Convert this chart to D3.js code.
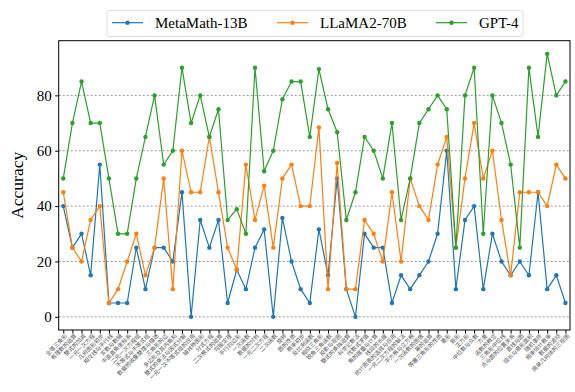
<!DOCTYPE html>
<html lang="zh">
<head>
<meta charset="UTF-8">
<script src="https://d3js.org/d3.v7.min.js"></script>
<title>accuracy</title>
<style>
  body { margin: 0; background: #fff; }
</style>
</head>
<body>
<script>
// 知识点（x 轴）
const topics = [
  "全等三角形", "有理数的运算", "整式的加减", "一元一次方程", "几何图形初步", "相交线与平行线",
  "实数与数轴", "平面直角坐标系", "二元一次方程组", "不等式与不等式组", "数据的收集整理与描述", "三角形的边",
  "多边形及其内角和", "整式的乘法与因式分解", "一元一次不等式组的应用", "轴对称图形", "分式方程", "二次根式的运算",
  "勾股定理", "平行四边形", "一次函数", "数据的分析", "一元二次方程", "二次函数",
  "旋转", "圆的性质", "概率初步", "反比例函数", "相似三角形", "锐角三角函数",
  "投影与视图", "整式的乘除运算", "科学记数法", "代数式求值", "角的度量与计算", "线段的长度",
  "统计图表的选择与应用", "一元二次方程的解法", "平方根与立方根", "一次函数的图像", "幂的运算", "等腰三角形的性质",
  "菱形", "矩形", "正方形", "中位数与众数", "方差", "函数的概念",
  "三角形中位线", "点与圆的位置关系", "直线与圆", "弧长与扇形面积", "随机事件", "频率估计概率",
  "数据的波动", "简单几何体的三视图"
];
const series = ["MetaMath-13B", "LLaMA2-70B", "GPT-4"];
const metamath = [40, 25, 30, 15, 55, 5, 5, 5, 25, 10, 25, 25, 20, 45, 0, 35, 25, 35, 5, 17,
  10, 25, 31.6, 0, 35.7, 20, 10, 5, 31.6, 15, 50, 10, 0, 30, 25, 25, 5, 15, 10, 15,
  20, 30, 60, 10, 35, 40, 10, 30, 20, 15, 20, 15, 45, 10, 15, 5];
const llama = [45, 25, 20, 35, 40, 5, 10, 20, 30, 15, 25, 50, 10, 60, 45, 45, 65, 45, 25, 17,
  55, 35, 47.4, 25, 50, 55, 40, 40, 68.4, 10, 55.6, 10, 10, 35, 30, 20, 45, 20, 50, 40,
  35, 55, 65, 25, 50, 70, 50, 60, 35, 15, 45, 45, 45, 40, 55, 50];
const gpt4 = [50, 70, 85, 70, 70, 50, 30, 30, 50, 65, 80, 55, 60, 90, 70, 80, 65, 75, 35, 38.9,
  30, 90, 52.6, 60, 78.6, 85, 85, 65, 89.5, 75, 66.7, 35, 45, 65, 60, 50, 70, 35, 50, 70,
  75, 80, 75, 25, 80, 90, 30, 80, 70, 55, 25, 90, 65, 95, 80, 85];
const yTicks = [0, 20, 40, 60, 80];
const colors = ["#1f77b4", "#ff7f0e", "#2ca02c"];

const width = 575, height = 392;
const margin = { left: 58.7, right: 5, top: 40.7, bottom: 62 };

const svg = d3.select("body").append("svg")
  .attr("width", width).attr("height", height)
  .style("font-family", "'Liberation Serif', 'DejaVu Serif', serif");

const x = d3.scalePoint()
  .domain(topics)
  .range([margin.left, width - margin.right])
  .padding(0.5);
// 与 matplotlib 默认 5% 边距一致
const y = d3.scaleLinear()
  .domain([-4.75, 99.75])
  .range([height - margin.bottom, margin.top]);

// 网格线
svg.append("g")
  .selectAll("line")
  .data(yTicks)
  .join("line")
  .attr("x1", margin.left).attr("x2", width - margin.right)
  .attr("y1", d => y(d)).attr("y2", d => y(d))
  .attr("stroke", "#7f7f7f")
  .attr("stroke-width", 0.8)
  .attr("stroke-dasharray", "2,2");

// 折线 + 点
const lineData = [metamath, llama, gpt4];
const line = d3.line()
  .x((d, i) => x(topics[i]))
  .y(d => y(d));

lineData.forEach((vals, k) => {
  const g = svg.append("g");
  g.append("path")
    .datum(vals)
    .attr("d", line)
    .attr("fill", "none")
    .attr("stroke", colors[k])
    .attr("stroke-width", 1.2);
  g.selectAll("circle")
    .data(vals)
    .join("circle")
    .attr("cx", (d, i) => x(topics[i]))
    .attr("cy", d => y(d))
    .attr("r", 2.2)
    .attr("fill", colors[k]);
});

// 坐标轴
const xAxis = svg.append("g")
  .attr("transform", `translate(0,${height - margin.bottom})`)
  .call(d3.axisBottom(x).tickSize(3.5).tickSizeOuter(0));
xAxis.select(".domain").remove();
xAxis.selectAll("text")
  .attr("transform", "rotate(-45)")
  .attr("text-anchor", "end")
  .attr("dx", "-0.3em")
  .attr("dy", "0.6em")
  .attr("x", 0).attr("y", 4)
  .style("font-family", "'Noto Sans CJK SC', sans-serif")
  .style("font-size", "5.6px")
  .attr("fill", "#555");

const yAxis = svg.append("g")
  .attr("transform", `translate(${margin.left},0)`)
  .call(d3.axisLeft(y).tickValues(yTicks).tickSize(3.5).tickPadding(3.5).tickSizeOuter(0))
  .attr("font-family", "'Liberation Serif', serif")
  .attr("font-size", 15);
yAxis.select(".domain").remove();
yAxis.selectAll("text")
  .style("font-family", "'Liberation Serif', serif")
  .style("font-size", "15px")
  .attr("fill", "#000");

// 外框
svg.append("rect")
  .attr("x", margin.left).attr("y", margin.top)
  .attr("width", width - margin.right - margin.left)
  .attr("height", height - margin.bottom - margin.top)
  .attr("fill", "none")
  .attr("stroke", "#000")
  .attr("stroke-width", 1);

// y 轴标题
svg.append("text")
  .attr("transform", `translate(23,${(margin.top + height - margin.bottom) / 2}) rotate(-90)`)
  .attr("text-anchor", "middle")
  .style("font-size", "17.5px")
  .text("Accuracy");

// 图例
const legend = svg.append("g");
legend.append("rect")
  .attr("x", 107).attr("y", 10.5)
  .attr("width", 416).attr("height", 26)
  .attr("rx", 2.5)
  .attr("fill", "#fff")
  .attr("stroke", "#d6d6d6")
  .attr("stroke-width", 0.8);
const legendX = [112, 277, 436];
series.forEach((name, k) => {
  const lg = legend.append("g").attr("transform", `translate(${legendX[k]},22.7)`);
  lg.append("line")
    .attr("x1", 0).attr("x2", 31)
    .attr("stroke", colors[k]).attr("stroke-width", 1.2);
  lg.append("circle")
    .attr("cx", 15.5).attr("r", 2.2).attr("fill", colors[k]);
  lg.append("text")
    .attr("x", 43).attr("dy", "0.35em")
    .style("font-size", "15px")
    .text(name);
});
</script>
</body>
</html>
